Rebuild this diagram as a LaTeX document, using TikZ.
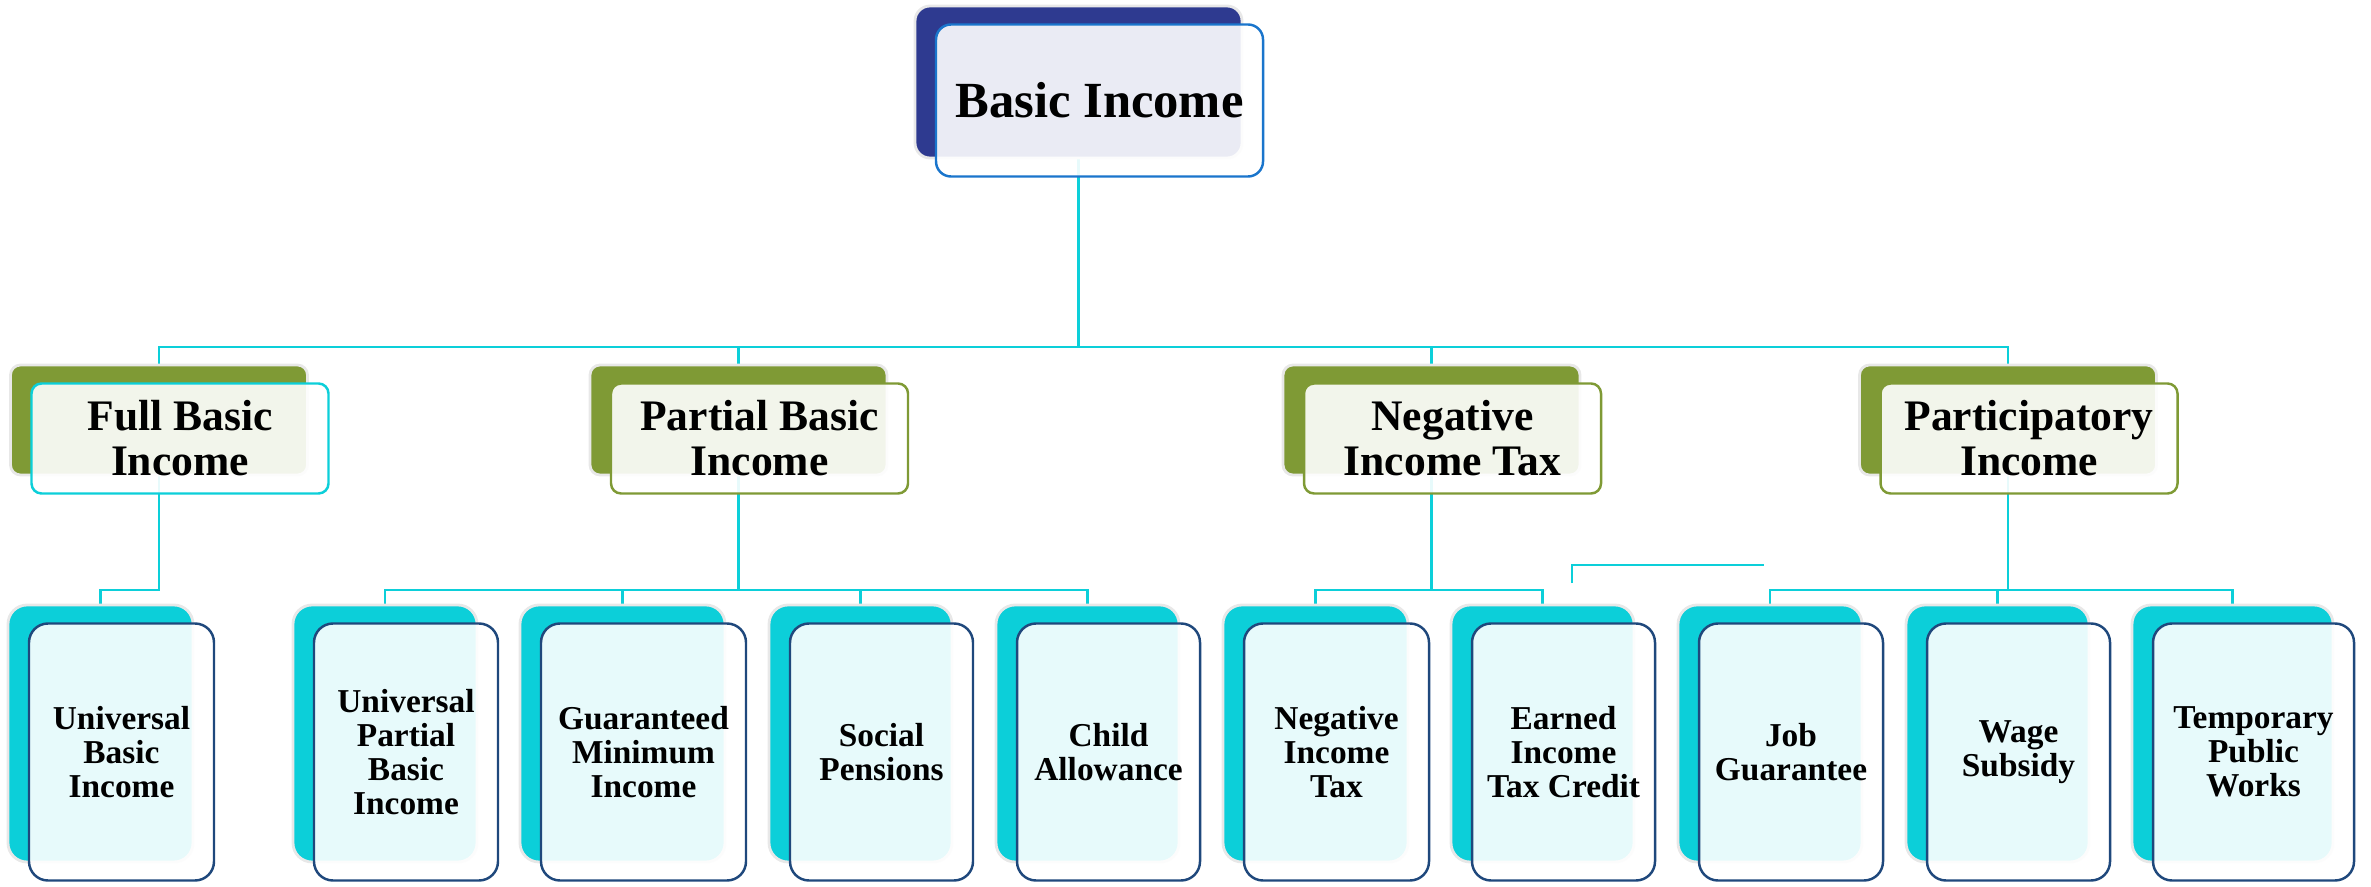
\documentclass[tikz,border=0pt]{standalone}
\usepackage{fontspec}
\setmainfont{Liberation Serif}
\usetikzlibrary{calc,positioning,backgrounds}

\definecolor{deepblue}{HTML}{2E3A90}
\definecolor{edgeblue}{HTML}{1A75CC}
\definecolor{olive}{HTML}{7F9A35}
\definecolor{aqua}{HTML}{0CCFD9}
\definecolor{navy}{HTML}{1F487C}

\tikzset{
  link/.style={draw=aqua, line width=0.6pt},
  shadowbox/.style={rectangle, fill=#1, draw=black!9, line width=0.8pt},
  textbox/.style={rectangle, draw=#1, line width=0.7pt, fill=white, fill opacity=0.9,
                  text opacity=1, align=center, inner sep=0pt},
  topsize/.style={minimum width=3.27cm, minimum height=1.52cm, rounded corners=0.15cm,
                  font=\bfseries\fontsize{14.4}{17}\selectfont},
  midsize/.style={minimum width=2.97cm, minimum height=1.10cm, rounded corners=0.1cm,
                  font=\bfseries\fontsize{12.4}{12.8}\selectfont},
  lowsize/.style={minimum width=#1, minimum height=2.57cm, rounded corners=0.19cm,
                  font=\bfseries\fontsize{9.5}{9.7}\selectfont},
}

\begin{document}
\begin{tikzpicture}
        \def\dx{0.21}
        \def\dy{0.185}
        \useasboundingbox (0,0) rectangle (23.71,-8.87);

        \coordinate (bus) at (0,-3.47);
        \coordinate (sub) at (0,-5.90);

        % top
        \node (top) [shadowbox=deepblue, topsize] at (10.785,-0.82) {};
        \node (topt) [textbox=edgeblue, topsize] at ($(top) + (\dx,-\dy)$) {Basic Income};

        % second row
        \node (k1) [shadowbox=olive, midsize] at (1.59,-4.20) {};
        \node (k1t) [textbox=aqua, midsize] at ($(k1) + (\dx,-\dy)$) {Full Basic\\Income};
        \node (k2) [shadowbox=olive, midsize] at (7.385,-4.20) {};
        \node (k2t) [textbox=olive, midsize] at ($(k2) + (\dx,-\dy)$) {Partial Basic\\Income};
        \node (k3) [shadowbox=olive, midsize] at (14.315,-4.20) {};
        \node (k3t) [textbox=olive, midsize] at ($(k3) + (\dx,-\dy)$) {Negative\\Income Tax};
        \node (k4) [shadowbox=olive, midsize] at (20.08,-4.20) {};
        \node (k4t) [textbox=olive, midsize] at ($(k4) + (\dx,-\dy)$) {Participatory\\Income};

        % third row
        \foreach \i/\x/\w/\txt in {
            1/1.005/1.85/{Universal\\Basic\\Income},
            2/3.85/1.84/{Universal\\Partial\\Basic\\Income},
            3/6.225/2.05/{Guaranteed\\Minimum\\Income},
            4/8.605/1.83/{Social\\Pensions},
            5/10.875/1.83/{Child\\Allowance},
            6/13.155/1.85/{Negative\\Income\\Tax},
            7/15.425/1.83/{Earned\\Income\\Tax Credit},
            8/17.70/1.84/{Job\\Guarantee},
            9/19.975/1.83/{Wage\\Subsidy},
            10/22.325/2.01/{Temporary\\Public\\Works}} {
            \node (m\i) [shadowbox=aqua, lowsize=\w cm] at (\x,-7.335) {};
            \node (m\i t) [textbox=navy, lowsize=\w cm] at ($(m\i) + (\dx,-\dy)$) {\txt};
        }

        \coordinate (s1) at (15.72,-5.83);
        \coordinate (s2) at (17.64,-5.65);

        \begin{scope}[on background layer]
            \foreach \k in {1,...,4}
                \draw[link] (top) -- (top |- bus) -| (k\k);
            \draw[link] (k1) -- (k1 |- sub) -| (m1);
            \foreach \m in {2,...,5}
                \draw[link] (k2) -- (k2 |- sub) -| (m\m);
            \foreach \m in {6,7}
                \draw[link] (k3) -- (k3 |- sub) -| (m\m);
            \foreach \m in {8,9,10}
                \draw[link] (k4) -- (k4 |- sub) -| (m\m);
            \draw[link] (s1) |- (s2);
        \end{scope}
\end{tikzpicture}
\end{document}
